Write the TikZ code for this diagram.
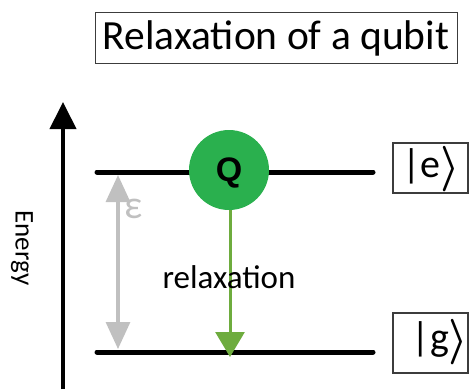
\documentclass[tikz,border=0pt]{standalone}
\usepackage{fontspec}
\usepackage{graphicx}
\setmainfont{Carlito}
\newfontfamily\qfont{Liberation Sans}
\usetikzlibrary{arrows.meta,shapes.geometric}
\definecolor{qgreen}{RGB}{42,176,78}
\definecolor{argreen}{RGB}{110,172,62}
\definecolor{lgray}{RGB}{192,192,192}
\definecolor{boxline}{RGB}{60,60,60}
\newcommand{\rket}{{\fontsize{20}{24}\selectfont\raisebox{-3pt}{\scalebox{2.1}[2.2]{\boldmath$\rangle$}}}}
\tikzset{
  level/.style={line width=5pt, line cap=round, black},
  labelbox/.style={draw=boxline, line width=1.2pt},
}
\begin{document}
\begin{tikzpicture}[x=1pt,y=-1pt]
\path[use as bounding box] (0,0) rectangle (469,389);
% title
\node[draw=boxline, line width=1pt, minimum width=362pt, minimum height=51pt, inner sep=0pt] (title) at (276,38)
  {\fontsize{41.5}{48}\selectfont Relaxation of a qubit};
% energy axis
\coordinate (ab) at (63,389);
\coordinate (at) at (63,102);
\draw[line width=4pt, -{Triangle[length=27pt,width=26pt]}] (ab) -- (at);
\node[rotate=-90] (energy) at (22,248) {\fontsize{27}{30}\selectfont Energy};
% levels
\coordinate (e1) at (97,172);
\coordinate (e2) at (373,172);
\coordinate (g1) at (97,352);
\coordinate (g2) at (373,352);
\draw[level] (e1) -- (e2);
\draw[level] (g1) -- (g2);
% epsilon arrow
\coordinate (ut) at (118,175);
\coordinate (lt) at (118,349);
\draw[lgray, line width=3.2pt, {Triangle[length=27pt,width=24pt]}-{Triangle[length=27pt,width=24pt]}] (ut) -- (lt);
\node[lgray] (eps) at (134,209) {\fontsize{40}{44}\selectfont ε};
% qubit
\node[circle, fill=qgreen, minimum size=80pt, inner sep=0pt] (q) at (229,170) {};
\node (qlab) at (229,173) {\qfont\fontsize{34}{38}\selectfont\bfseries Q};
% relaxation arrow
\coordinate (rt) at (230,357);
\draw[argreen, line width=3pt, -{Triangle[length=25pt,width=29pt]}] (q.south -| rt) -- (rt);
\node (relax) at (229,277) {\fontsize{33}{38}\selectfont relaxation};
% state labels
\draw[labelbox] (393,143) rectangle (468,193);
\node (kete) at (431,169) {\fontsize{40}{48}\selectfont\textbar e\rket};
\draw[labelbox] (393,313) rectangle (468,373);
\node (ketg) at (440,342) {\fontsize{40}{48}\selectfont\textbar g\rket};
\end{tikzpicture}
\end{document}
